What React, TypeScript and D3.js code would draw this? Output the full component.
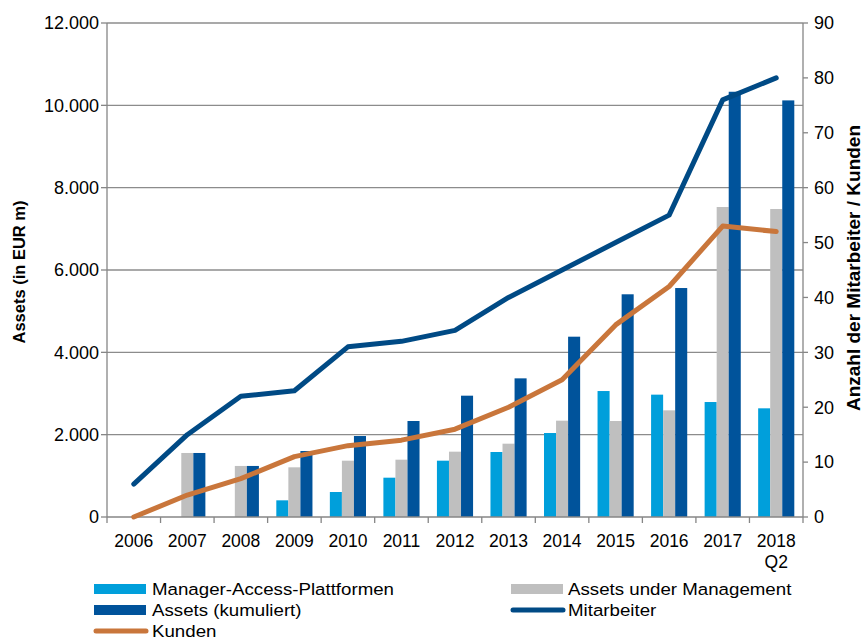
import React from "react";
import * as d3 from "d3";

const categories = ["2006", "2007", "2008", "2009", "2010", "2011", "2012", "2013", "2014", "2015", "2016", "2017", "2018 Q2"];
const managerAccess = [0, 0, 0, 405, 607, 955, 1368, 1579, 2040, 3060, 2972, 2793, 2640];
const assetsUnderMgmt = [0, 1555, 1240, 1207, 1368, 1392, 1587, 1781, 2340, 2332, 2591, 7530, 7482];
const assetsKumuliert = [0, 1555, 1240, 1603, 1967, 2332, 2947, 3368, 4380, 5410, 5562, 10330, 10120];
const mitarbeiter = [6, 15, 22, 23, 31, 32, 34, 40, 45, 50, 55, 76, 80];
const kunden = [0, 4, 7, 11, 13, 14, 16, 20, 25, 35, 42, 53, 52];
const leftTicks = [0, 2000, 4000, 6000, 8000, 10000, 12000];
const rightTicks = [0, 10, 20, 30, 40, 50, 60, 70, 80, 90];

const barSeries = [
  { name: "Manager-Access-Plattformen", values: managerAccess, color: "#009FDB" },
  { name: "Assets under Management", values: assetsUnderMgmt, color: "#BFBFBF" },
  { name: "Assets (kumuliert)", values: assetsKumuliert, color: "#00539B" },
];
const lineSeries = [
  { name: "Mitarbeiter", values: mitarbeiter, color: "#004A85" },
  { name: "Kunden", values: kunden, color: "#C9763B" },
];

const W = 864, H = 641;
const left = 107, right = 803, top = 23, bottom = 517;
const font = "'Liberation Sans', Arial, sans-serif";
const axisColor = "#868686";

export default function App() {
  const x = d3.scaleBand<string>().domain(categories).range([left, right]).padding(0);
  const bw = x.bandwidth();
  const groupW = bw * 0.675;
  const xs = d3.scaleBand<string>().domain(barSeries.map(s => s.name)).range([0, groupW]).padding(0);
  const yL = d3.scaleLinear().domain([0, 12000]).range([bottom, top]);
  const yR = d3.scaleLinear().domain([0, 90]).range([bottom, top]);
  const fmt = (v: number) => (v === 0 ? "0" : d3.format(",")(v).replace(/,/g, "."));
  const line = d3.line<number>()
    .x((_, i) => (x(categories[i]) as number) + bw / 2)
    .y(d => yR(d));

  const legendItems = [
    { name: barSeries[0].name, color: barSeries[0].color, kind: "bar", sx: 94, tx: 152, y: 589 },
    { name: barSeries[1].name, color: barSeries[1].color, kind: "bar", sx: 511, tx: 568, y: 589 },
    { name: barSeries[2].name, color: barSeries[2].color, kind: "bar", sx: 94, tx: 152, y: 610 },
    { name: lineSeries[0].name, color: lineSeries[0].color, kind: "line", sx: 511, tx: 568, y: 610 },
    { name: lineSeries[1].name, color: lineSeries[1].color, kind: "line", sx: 94, tx: 152, y: 631 },
  ];

  return (
    <svg width={W} height={H} style={{ position: "absolute", left: 0, top: 0, background: "#fff" }} fontFamily={font}>
      {leftTicks.filter(t => t > 0).map(t => (
        <line key={"g" + t} x1={left} x2={right} y1={yL(t)} y2={yL(t)} stroke="#8C8C8C" strokeWidth={1.3} />
      ))}
      {barSeries.map(s => (
        <g key={s.name}>
          {s.values.map((v, i) => {
            if (v <= 0) return null;
            const cx = (x(categories[i]) as number) + bw / 2 - groupW / 2 + (xs(s.name) as number);
            return <rect key={i} x={cx} y={yL(v)} width={xs.bandwidth()} height={bottom - yL(v)} fill={s.color} />;
          })}
        </g>
      ))}
      <line x1={left} x2={left} y1={top} y2={bottom} stroke={axisColor} strokeWidth={1.3} />
      <line x1={right} x2={right} y1={top} y2={bottom} stroke={axisColor} strokeWidth={1.3} />
      <line x1={left} x2={right} y1={bottom} y2={bottom} stroke={axisColor} strokeWidth={1.3} />
      {leftTicks.map(t => (
        <g key={"lt" + t}>
          <line x1={left - 6} x2={left} y1={yL(t)} y2={yL(t)} stroke={axisColor} strokeWidth={1.3} />
          <text x={left - 8} y={yL(t)} dy="0.35em" textAnchor="end" fontSize={18} fill="#000">{fmt(t)}</text>
        </g>
      ))}
      {rightTicks.map(t => (
        <g key={"rt" + t}>
          <line x1={right} x2={right + 5} y1={yR(t)} y2={yR(t)} stroke={axisColor} strokeWidth={1.3} />
          <text x={right + 11} y={yR(t)} dy="0.35em" textAnchor="start" fontSize={18} fill="#000">{t}</text>
        </g>
      ))}
      {categories.map((c, i) => (
        <line key={"xt" + i} x1={x(c) as number} x2={x(c) as number} y1={bottom} y2={bottom + 6} stroke={axisColor} strokeWidth={1.3} />
      ))}
      <line x1={right} x2={right} y1={bottom} y2={bottom + 6} stroke={axisColor} strokeWidth={1.3} />
      {categories.map(c => {
        const parts = c.split(" ");
        const cx = (x(c) as number) + bw / 2;
        return (
          <text key={"xl" + c} x={cx} y={547} textAnchor="middle" fontSize={17.5} fill="#000">
            {parts.map((p, j) => (
              <tspan key={j} x={cx} dy={j === 0 ? 0 : 21}>{p}</tspan>
            ))}
          </text>
        );
      })}
      {lineSeries.map(s => (
        <path key={s.name} d={line(s.values) || ""} fill="none" stroke={s.color} strokeWidth={5} strokeLinejoin="round" strokeLinecap="round" />
      ))}
      <text transform={`translate(25,272) rotate(-90)`} textAnchor="middle" fontSize={16.5} fontWeight="bold" fill="#000">Assets (in EUR m)</text>
      <text transform={`translate(860,268) rotate(-90)`} textAnchor="middle" fontSize={19} fontWeight="bold" fill="#000">Anzahl der Mitarbeiter / Kunden</text>
      {legendItems.map(it => (
        <g key={"lg" + it.name}>
          {it.kind === "bar" ? (
            <rect x={it.sx} y={it.y - 5} width={52} height={10} fill={it.color} />
          ) : (
            <line x1={it.sx + 2} x2={it.sx + 52} y1={it.y} y2={it.y} stroke={it.color} strokeWidth={5} strokeLinecap="round" />
          )}
          <text transform={`translate(${it.tx},${it.y}) scale(1.1,1)`} dy="0.35em" fontSize={17} fill="#000">{it.name}</text>
        </g>
      ))}
    </svg>
  );
}
